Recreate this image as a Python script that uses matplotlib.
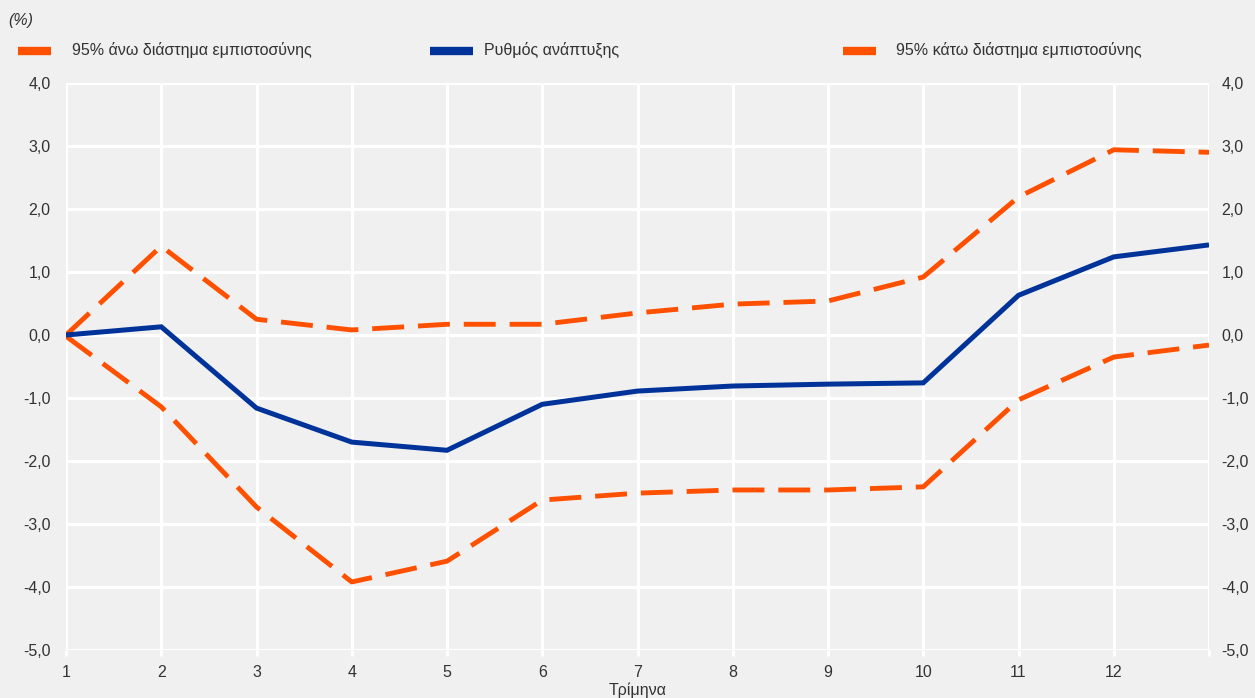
import matplotlib
matplotlib.use("Agg")
import matplotlib.pyplot as plt
from matplotlib.lines import Line2D

plt.rcParams['font.family'] = ['Liberation Sans', 'DejaVu Sans']
plt.rcParams['lines.scale_dashes'] = False

# Quarters after the shock and growth response with 95% confidence bands
quarters = [1, 2, 3, 4, 5, 6, 7, 8, 9, 10, 11, 12, 13]
tick_labels = ["1", "2", "3", "4", "5", "6", "7", "8", "9", "10", "11", "12", ""]
growth = [0.0, 0.13, -1.16, -1.70, -1.83, -1.10, -0.89, -0.81, -0.78, -0.76, 0.63, 1.24, 1.43]
upper = [0.0, 1.41, 0.25, 0.08, 0.17, 0.17, 0.35, 0.49, 0.54, 0.92, 2.19, 2.94, 2.90]
lower = [-0.02, -1.14, -2.73, -3.92, -3.59, -2.62, -2.51, -2.46, -2.46, -2.41, -1.03, -0.35, -0.16]
y_ticks = [4, 3, 2, 1, 0, -1, -2, -3, -4, -5]

labels = ["95% άνω διάστημα εμπιστοσύνης", "Ρυθμός ανάπτυξης", "95% κάτω διάστημα εμπιστοσύνης"]

BG = "#f0f0f0"
ORANGE = "#ff5000"
BLUE = "#003399"
TXT = "#333333"
FS = 11.5

fig = plt.figure(figsize=(12.55, 6.98), dpi=100, facecolor=BG)
ax = fig.add_axes([66 / 1255, 48 / 698, (1209 - 66) / 1255, (650 - 83) / 698])
ax.set_facecolor(BG)

dash = (0, (23, 10))
ax.plot(quarters, upper, color=ORANGE, lw=3.5, linestyle=dash, zorder=3)
ax.plot(quarters, lower, color=ORANGE, lw=3.5, linestyle=dash, zorder=3)
ax.plot(quarters, growth, color=BLUE, lw=3.6, solid_capstyle='butt',
        solid_joinstyle='miter', zorder=4)

ax.set_xlim(1, 13)
ax.set_ylim(-5, 4)
ax.set_xticks(quarters)
ax.set_xticklabels(tick_labels)
ax.set_yticks(y_ticks)
ax.set_yticklabels([f"{v:.1f}".replace(".", ",") for v in y_ticks])

for s in ax.spines.values():
    s.set_visible(False)
ax.grid(True, color="white", lw=2.2, zorder=1)
ax.set_axisbelow(True)
ax.tick_params(axis='x', colors="white", length=4, width=2.2, pad=7,
               labelcolor=TXT, labelsize=FS)
ax.tick_params(axis='y', length=0, pad=11, labelcolor=TXT, labelsize=FS)

ax2 = ax.twinx()
ax2.set_ylim(ax.get_ylim())
ax2.set_yticks(y_ticks)
ax2.set_yticklabels([f"{v:.1f}".replace(".", ",") for v in y_ticks])
ax2.tick_params(axis='y', length=0, pad=9, labelcolor=TXT, labelsize=FS)
for s in ax2.spines.values():
    s.set_visible(False)

# Axis title sits at the very bottom of the figure
fig.text((66 + 1209) / 2 / 1255, 0.5 / 698, "Τρίμηνα", fontsize=FS, color=TXT,
         ha='center', va='bottom')

fig.text(8 / 1255, 1 - 20 / 698, "(%)", fontsize=FS, color=TXT, style='italic',
         va='center', ha='left')

# Legend row
legend_items = [
    (18, 51, 72, ORANGE, labels[0]),
    (430, 473, 484, BLUE, labels[1]),
    (843, 876, 896, ORANGE, labels[2]),
]
ly = 1 - 51 / 698
for x0, x1, xt, col, txt in legend_items:
    fig.add_artist(Line2D([x0 / 1255, x1 / 1255], [ly, ly], color=col, lw=6,
                          solid_capstyle='butt', transform=fig.transFigure))
    fig.text(xt / 1255, ly + 0.002, txt, fontsize=FS, color=TXT, va='center', ha='left')

fig.savefig("out.png", dpi=100, facecolor=BG)
